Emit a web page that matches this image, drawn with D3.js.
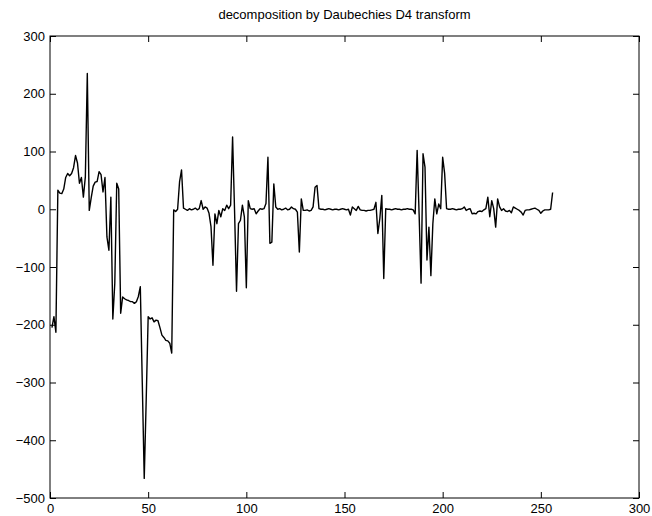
<!DOCTYPE html>
<html>
<head>
<meta charset="utf-8">
<script src="https://cdn.jsdelivr.net/npm/d3@7"></script>
<style>
    body { margin: 0; background: #fff; }
    svg { display: block; font-family: "Liberation Sans", Arial, Helvetica, sans-serif; }
</style>
</head>
<body>
<svg id="chart" width="652" height="516"></svg>
<script>
/**
 * Coefficients of the D4 decomposition, one per sample (samples 1..256).
 */
const coefficients = [
    -205, -186, -213, 33, 28, 27, 35, 55, 62, 58,
    62, 72, 93, 80, 45, 55, 21, 56, 235, -2,
    20, 40, 47, 48, 65, 60, 30, 55, -48, -71,
    21, -190, -128, 45, 35, -180, -152, -155, -157, -158,
    -160, -160, -163, -160, -151, -134, -300, -466, -330, -186,
    -190, -188, -195, -192, -193, -205, -218, -222, -227, -228,
    -232, -249, -1, -4, 0, 48, 68, 2, 0, -2,
    1, -1, 0, 2, -1, 1, 15, 0, 4, 2,
    -7, -30, -97, -8, -25, -2, -13, 1, -2, 7,
    1, 7, 125, -2, -142, -25, -19, 7, -13, -136,
    15, 1, 0, 1, -8, -3, 1, 0, 1, 10,
    90, -59, -57, 44, 4, 0, 1, -1, 0, 2,
    -1, 0, 4, 1, 0, -5, -74, 18, -2, -2,
    -1, -3, -2, 4, 38, 41, 1, 0, 0, -1,
    0, 1, 0, -1, 0, 0, -1, 0, 1, 0,
    -1, 0, -10, 4, 1, -2, 5, -1, -2, -2,
    -3, -2, -2, -1, 0, 12, -42, -16, 24, -120,
    1, 0, 0, -1, 0, 1, 0, 0, -1, 0,
    0, 1, 0, 0, -1, -8, 102, -8, -128, 96,
    73, -88, -31, -115, -25, 18, -8, 9, 1, 90,
    62, 1, 0, 0, 1, 0, -1, 0, 0, 1,
    4, -2, 0, 1, -8, -7, -8, -4, -3, -4,
    -1, 1, 21, -13, 15, 1, -31, 18, 4, -2,
    1, -3, -4, -2, -6, 4, 2, 0, -2, -5,
    -10, -2, -1, -1, 0, 1, 2, 0, -2, -7,
    -3, -1, -1, -1, 0, 29
];

const xDomain = [0, 300],
    yDomain = [-500, 300],
    xTicks = [0, 50, 100, 150, 200, 250, 300],
    yTicks = [-500, -400, -300, -200, -100, 0, 100, 200, 300],
    title = 'decomposition by Daubechies D4 transform';

/**
 * Visual configs.
 */
const visWidth = 652, visHeight = 516,
    margin = { top: 36, right: 13, bottom: 18, left: 50 },
    width = visWidth - margin.left - margin.right,
    height = visHeight - margin.top - margin.bottom,
    tickLength = 6,
    fontSize = 13;

const xScale = d3.scaleLinear().domain(xDomain).range([0, width]),
    yScale = d3.scaleLinear().domain(yDomain).range([height, 0]);

const svg = d3.select('#chart');

const plot = svg.append('g')
    .attr('transform', 'translate(' + margin.left + ',' + margin.top + ')');

// Signal trace
const line = d3.line()
    .x((d, i) => xScale(i + 1))
    .y(d => yScale(d));

plot.append('path')
    .datum(coefficients)
    .attr('fill', 'none')
    .attr('stroke', '#000')
    .attr('stroke-width', 1.4)
    .attr('stroke-linejoin', 'round')
    .attr('d', line);

// Axes, ticks pointing inward on all four sides
function styleAxis(g, labelled) {
    g.select('.domain').remove();
    g.selectAll('.tick line').attr('stroke', '#000');
    g.selectAll('.tick text')
        .attr('fill', '#000')
        .style('font-size', fontSize + 'px');
    if (!labelled) g.selectAll('.tick text').remove();
}

plot.append('g')
    .attr('transform', 'translate(0,' + height + ')')
    .call(d3.axisBottom(xScale).tickValues(xTicks).tickSize(-tickLength).tickPadding(6))
    .call(g => styleAxis(g, true));

plot.append('g')
    .call(d3.axisTop(xScale).tickValues(xTicks).tickSize(-tickLength))
    .call(g => styleAxis(g, false));

plot.append('g')
    .call(d3.axisLeft(yScale).tickValues(yTicks).tickSize(-tickLength).tickPadding(5))
    .call(g => styleAxis(g, true));

plot.append('g')
    .attr('transform', 'translate(' + width + ',0)')
    .call(d3.axisRight(yScale).tickValues(yTicks).tickSize(-tickLength))
    .call(g => styleAxis(g, false));

// Box round the plot area
plot.append('rect')
    .attr('width', width)
    .attr('height', height)
    .attr('fill', 'none')
    .attr('stroke', '#000')
    .attr('stroke-width', 1);

// Title
svg.append('text')
    .attr('x', margin.left + width / 2)
    .attr('y', 19)
    .attr('text-anchor', 'middle')
    .style('font-size', fontSize + 'px')
    .text(title);
</script>
</body>
</html>
